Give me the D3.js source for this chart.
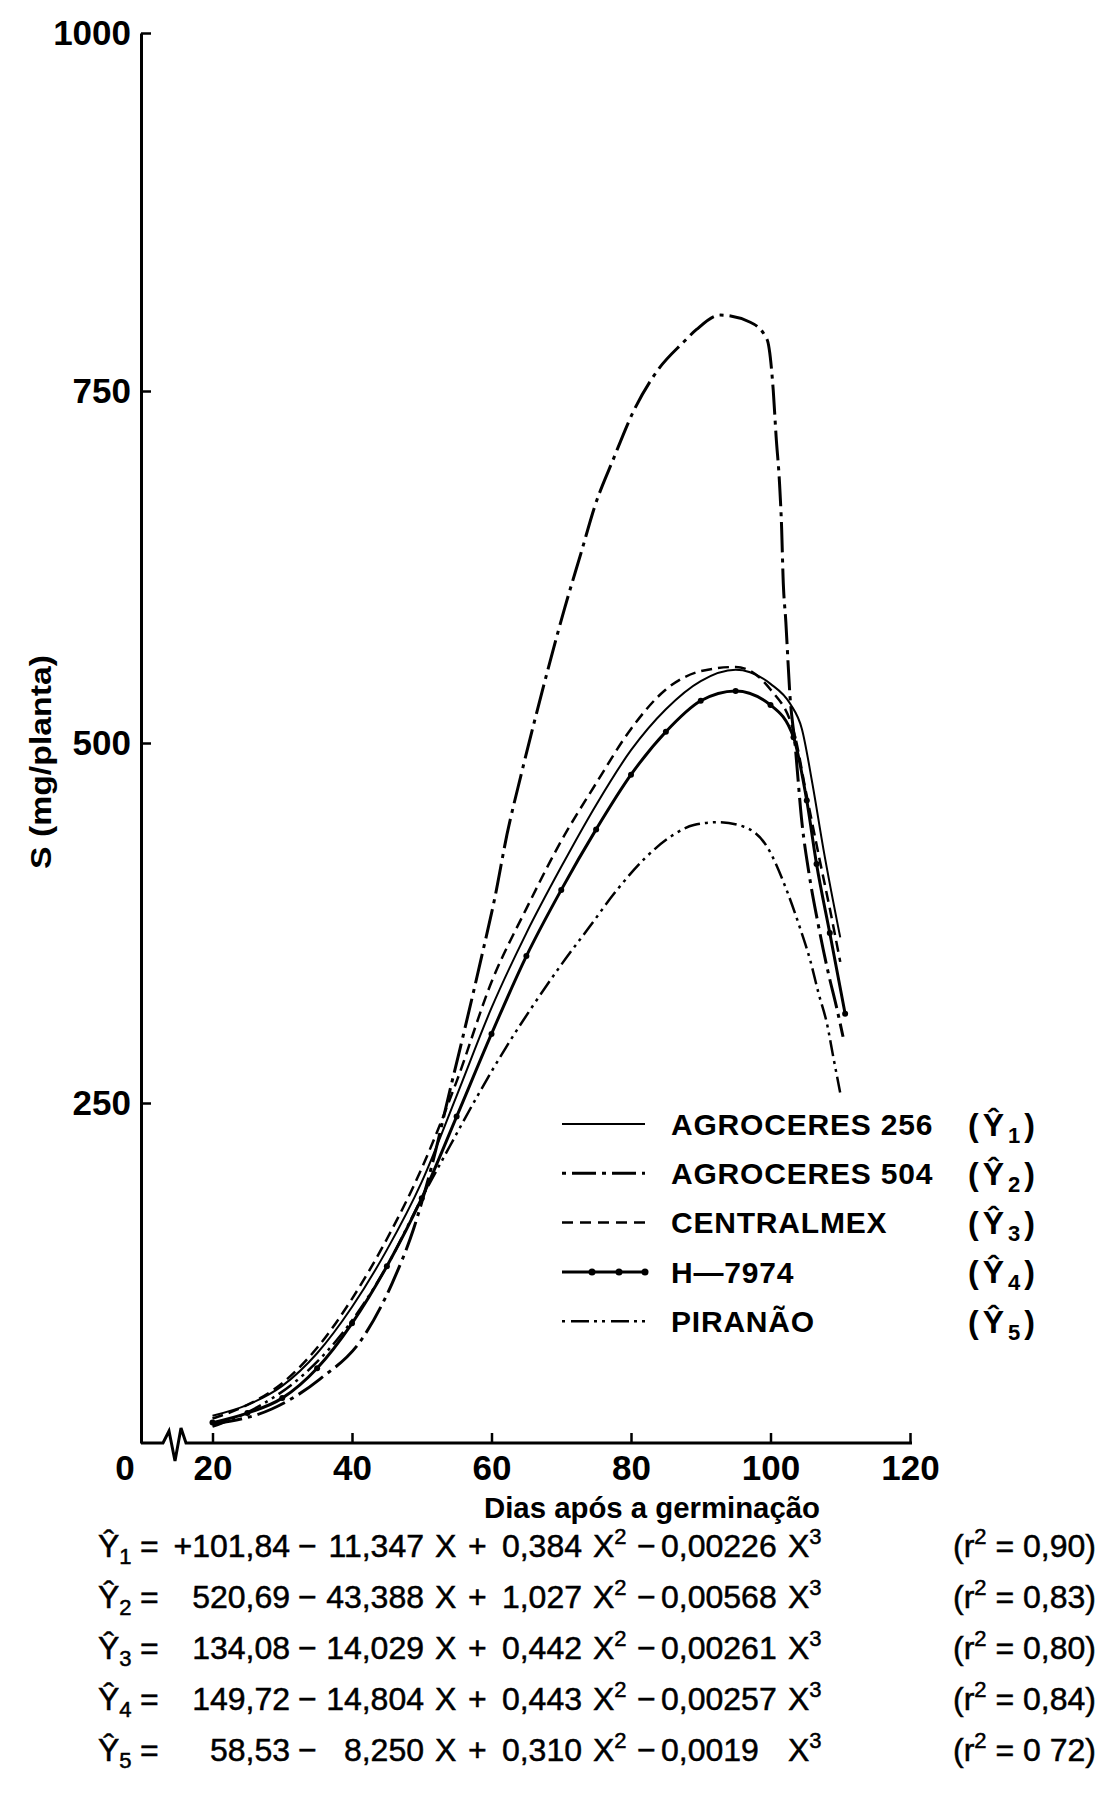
<!DOCTYPE html>
<html>
<head>
<meta charset="utf-8">
<title>S (mg/planta)</title>
<script src="https://cdn.jsdelivr.net/npm/d3@7/dist/d3.min.js"></script>
<style>
  body { margin: 0; background: #ffffff; }
  #graphic-svg { display: block; background: #ffffff; }
  .axis path, .axis line { stroke: #000; }
  .axis text { font-family: "Liberation Sans", Arial, sans-serif; font-weight: bold; font-size: 35px; fill: #000; }
  .curve { fill: none; stroke: #000; }
  .label { font-family: "Liberation Sans", Arial, sans-serif; font-weight: bold; fill: #000; }
  .eq { font-family: "Liberation Sans", Arial, sans-serif; font-size: 32px; fill: #000; stroke: #000; stroke-width: 0.5px; }
</style>
</head>
<body>
<svg id="graphic-svg" width="1102" height="1817"></svg>
<script>
////////////////////////////////////////////////////////////////////////////////////
// Values: [dias, S (mg/planta)]
var agroceres256 = [[20,20],[25,28],[30,42],[35,66],[40,100],[45,142],[50,192],[55,255],[60,316],[65,368],
                    [70,414],[75,457],[80,495],[85,524],[90,544],[95,552],[100,542],[102.8,528],[104.5,510],
                    [106,472],[107.6,426],[110,365]];
var agroceres504 = [[20,14],[28.5,25],[35.4,47],[41.5,77],[45.8,118],[48.8,157],[51.5,205],[54,258],[56,298],
                    [58.6,352],[60.5,393],[62.2,436],[64.3,479],[66.5,522],[68.4,558],[70.5,596],[72.9,636],
                    [74.8,668],[77.5,702],[80.3,735],[83.9,765],[87.5,784],[89.4,793],[92.8,803],[97.1,798],
                    [99.5,786],[100.4,750],[100.8,718],[101.3,684],[101.6,652],[101.8,618],[102.2,586],
                    [102.8,533],[103.5,500],[104.5,445],[105.5,410],[106.8,375],[108.3,340],[109.4,318],[110.4,296]];
var centralmex   = [[20,18],[25,28],[30,44],[35,70],[40,106],[45,150],[50,202],[55,265],[60,334],[65,385],
                    [70,432],[75,472],[80,510],[85,538],[90,551],[95,554],[100,538],[103.5,505],[105,468],
                    [107,420],[108.5,385],[110,348]];
var h7974        = [[20,15],[25,22],[30,33],[35,55],[40,88],[45,130],[50,180],[55,240],[60,298],[65,352],
                    [70,398],[75,440],[80,478],[85,508],[90,530],[95,537],[100,527],[103.3,504],[105.2,460],
                    [106.6,416],[108.5,368],[110.7,312]];
var piranao      = [[20,12],[27,28],[33,50],[40,90],[45,130],[50,180],[54,218],[58,255],[62,288],[66,318],
                    [70,346],[74,372],[78,398],[82,420],[86,436],[89,443],[92.5,445],[96.1,442],[99.5,428],
                    [102.3,398],[104.2,372],[105.7,349],[106.9,326],[108.1,305],[109,282],[110,257]];

var cultivars = ["AGROCERES 256", "AGROCERES 504", "CENTRALMEX", "H\u20147974", "PIRAN\u00C3O"];
var xTicks = [20, 40, 60, 80, 100, 120];
var yTicks = [250, 500, 750, 1000];

// regression equations printed under the chart
var eqConst = ["+101,84", "520,69", "134,08", "149,72", "58,53"];
var eqLin   = ["11,347", "43,388", "14,029", "14,804", "8,250"];
var eqQuad  = ["0,384", "1,027", "0,442", "0,443", "0,310"];
var eqCub   = ["0,00226", "0,00568", "0,00261", "0,00257", "0,0019"];
var eqR2    = ["0,90", "0,83", "0,80", "0,84", "0 72"];

////////////////////////////////////////////////////////////////////////////////////
var svg = d3.select("#graphic-svg");

var xScale = d3.scaleLinear().domain([20, 120]).range([212.5, 910]);
// hand drawn axis: tick marks are not evenly spaced, follow them
var yScale = d3.scaleLinear().domain([0, 250, 500, 750, 1000]).range([1443, 1103, 743, 391, 33]);
var yAxisX = 141;

// line styles, same order as the series
var series = [agroceres256, agroceres504, centralmex, h7974, piranao];
var styles = [
  { width: 2,   dash: null,             legendDash: null },
  { width: 3,   dash: "30,6,4,6",       legendDash: "4,6,24,6" },
  { width: 2.5, dash: "11,6",           legendDash: "11,7" },
  { width: 3,   dash: null,             legendDash: null },
  { width: 2.5, dash: "16,5,3,5,3,5",   legendDash: "3,6,18,5,3,5" }
];

// Y axis
var yAxis = d3.axisLeft(yScale)
              .tickValues(yTicks)
              .tickFormat(d3.format("d"))
              .tickSizeInner(-10)
              .tickSizeOuter(0)
              .tickPadding(10);
var gy = svg.append("g")
            .attr("class", "axis")
            .attr("transform", "translate(" + yAxisX + ",0)")
            .call(yAxis);
gy.select(".domain").style("stroke-width", 3);
gy.selectAll(".tick line").style("stroke-width", 2.5);

// X axis (with the break near the origin)
var xAxis = d3.axisBottom(xScale)
              .tickValues(xTicks)
              .tickSizeInner(-10)
              .tickSizeOuter(0)
              .tickPadding(12);
var gx = svg.append("g")
            .attr("class", "axis")
            .attr("transform", "translate(0," + yScale(0) + ")")
            .call(xAxis);
gx.select(".domain").remove();
gx.selectAll(".tick line").style("stroke-width", 2.5);

var y0 = yScale(0);
svg.append("path")
   .attr("d", d3.line()([[yAxisX, y0], [163, y0], [169, y0 - 12], [175, y0 + 18], [181, y0 - 15],
                         [186, y0], [xScale(120) + 2, y0]]))
   .style("fill", "none")
   .style("stroke", "#000")
   .style("stroke-width", 3);

// origin label
svg.append("text")
   .attr("class", "label")
   .attr("x", yAxisX - 16)
   .attr("y", y0 + 12)
   .attr("dy", "0.71em")
   .attr("text-anchor", "middle")
   .style("font-size", "35px")
   .text("0");

// axis titles
svg.append("text")
   .attr("class", "label")
   .attr("x", 652)
   .attr("y", 1518)
   .attr("text-anchor", "middle")
   .attr("textLength", 336)
   .attr("lengthAdjust", "spacingAndGlyphs")
   .style("font-size", "30px")
   .text("Dias após a germinação");

svg.append("text")
   .attr("class", "label")
   .attr("transform", "translate(40,762) rotate(-90)")
   .attr("text-anchor", "middle")
   .attr("dy", "0.35em")
   .attr("textLength", 214)
   .attr("lengthAdjust", "spacingAndGlyphs")
   .style("font-size", "30px")
   .text("S (mg/planta)");

////////////////////////////////////////////////////////////////////////////////////
// Curves
var line = d3.line()
             .x(function(d) { return xScale(d[0]); })
             .y(function(d) { return yScale(d[1]); })
             .curve(d3.curveMonotoneX);

series.forEach(function(s, i) {
  svg.append("path")
     .datum(s)
     .attr("class", "curve")
     .attr("d", line)
     .style("stroke-width", styles[i].width)
     .style("stroke-dasharray", styles[i].dash);
});

// the H-7974 line carries small dots
svg.selectAll(".h7974dot")
   .data(h7974)
   .enter()
   .append("circle")
   .attr("class", "h7974dot")
   .attr("cx", function(d) { return xScale(d[0]); })
   .attr("cy", function(d) { return yScale(d[1]); })
   .attr("r", 3)
   .style("fill", "#000");

////////////////////////////////////////////////////////////////////////////////////
// Legend
var legendY0 = 1124, legendStep = 49.3;
cultivars.forEach(function(name, i) {
  var ly = legendY0 + i * legendStep;
  svg.append("line")
     .attr("x1", 562).attr("x2", 645)
     .attr("y1", ly).attr("y2", ly)
     .style("stroke", "#000")
     .style("stroke-width", styles[i].width)
     .style("stroke-dasharray", styles[i].legendDash);
  if (i == 3) {
    [592, 619, 645].forEach(function(cx) {
      svg.append("circle").attr("cx", cx).attr("cy", ly).attr("r", 3.5).style("fill", "#000");
    });
  }
  svg.append("text")
     .attr("class", "label")
     .attr("x", 671)
     .attr("y", ly)
     .attr("dy", "0.36em")
     .style("font-size", "30px")
     .style("letter-spacing", "0.8px")
     .text(name);
  var t = svg.append("text")
             .attr("class", "label")
             .attr("x", 968)
             .attr("y", ly)
             .attr("dy", "0.36em")
             .style("font-size", "32px")
             .style("letter-spacing", "4px");
  t.append("tspan").text("(\u0176");
  t.append("tspan").attr("dy", 7).style("font-size", "22px").text(i + 1);
  t.append("tspan").attr("dy", -7).text(")");
});

////////////////////////////////////////////////////////////////////////////////////
// Equations
function eqText(xPos, yPos, anchor) {
  return svg.append("text")
            .attr("class", "eq")
            .attr("x", xPos)
            .attr("y", yPos)
            .attr("text-anchor", anchor);
}
function withPower(t, base, p) {
  t.append("tspan").text(base);
  t.append("tspan").attr("dy", -13).style("font-size", "22px").text(p);
}

for (var i = 0; i < 5; i++) {
  var yb = 1557 + i * 51;
  var t = eqText(98, yb, "start");
  t.append("tspan").text("\u0176");
  t.append("tspan").attr("dy", 7).style("font-size", "22px").text(i + 1);
  eqText(140, yb, "start").text("=");
  eqText(290, yb, "end").text(eqConst[i]);
  eqText(298, yb, "start").text("\u2212");
  eqText(424, yb, "end").text(eqLin[i]);
  eqText(435, yb, "start").text("X");
  eqText(468, yb, "start").text("+");
  eqText(582, yb, "end").text(eqQuad[i]);
  withPower(eqText(593, yb, "start"), "X", "2");
  eqText(637, yb, "start").text("\u2212");
  eqText(661, yb, "start").text(eqCub[i]);
  withPower(eqText(788, yb, "start"), "X", "3");
  var r = eqText(1096, yb, "end");
  r.append("tspan").text("(r");
  r.append("tspan").attr("dy", -13).style("font-size", "22px").text("2");
  r.append("tspan").attr("dy", 13).text(" = " + eqR2[i] + ")");
}
</script>
</body>
</html>
